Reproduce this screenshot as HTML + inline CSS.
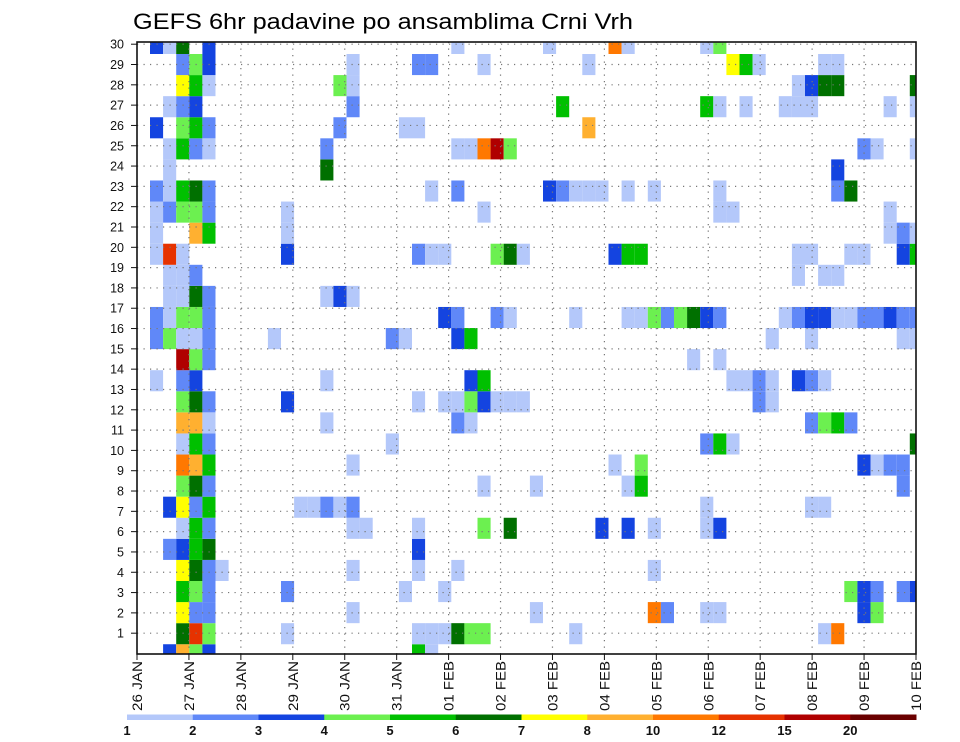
<!DOCTYPE html>
<html><head><meta charset="utf-8"><style>
html,body{margin:0;padding:0;background:#fff;}
svg{display:block;font-family:"Liberation Sans",sans-serif;}
</style></head><body>
<svg id="chart" width="960" height="742" viewBox="0 0 960 742">
<text x="133" y="29" font-size="22" textLength="500" lengthAdjust="spacingAndGlyphs">GEFS 6hr padavine po ansamblima Crni Vrh</text>
<g id="cells"></g>
<g id="grid"></g>
<g id="axes"></g>
<g id="legend"></g>
</svg>
<script>
// ---- data ----
const dayLabels = ["26 JAN","27 JAN","28 JAN","29 JAN","30 JAN","31 JAN","01 FEB","02 FEB","03 FEB","04 FEB","05 FEB","06 FEB","07 FEB","08 FEB","09 FEB","10 FEB"];
const memberTicks = [1,2,3,4,5,6,7,8,9,10,11,12,13,14,15,16,17,18,19,20,21,22,23,24,25,26,27,28,29,30];
const legendLevels = [1,2,3,4,5,6,7,8,10,12,15,20];
const legendColors = ["#b4c8fa","#6088f8","#1444e0","#6cf050","#00c000","#007000","#ffff00","#ffb030","#ff7800","#e63200","#b00000","#6a0000"];
// member index (bottom=0) -> list of [timeStep, precip mm]
const m0  = [[2,3.5],[3,9],[4,4.5],[5,3.5],[21,5.5],[22,1.5]];
const m1  = [[3,6.5],[4,13],[5,4.5],[11,1.5],[21,1.5],[22,1.5],[23,1.5],[24,6.5],[25,4.5],[26,4.5],[33,1.5],[52,1.5],[53,11]];
const m2  = [[3,7.5],[4,2.5],[5,2.5],[16,1.5],[30,1.5],[39,11],[40,2.5],[43,1.5],[44,1.5],[55,3.5],[56,4.5]];
const m3  = [[3,5.5],[4,4.5],[5,2.5],[11,2.5],[20,1.5],[23,1.5],[54,4.5],[55,3.5],[56,2.5],[58,2.5],[59,3.5]];
const m4  = [[3,7.5],[4,6.5],[5,2.5],[6,1.5],[16,1.5],[21,1.5],[24,1.5],[39,1.5]];
const m5  = [[2,2.5],[3,3.5],[4,5.5],[5,6.5],[21,3.5]];
const m6  = [[3,1.5],[4,5.5],[5,2.5],[16,1.5],[17,1.5],[21,1.5],[26,4.5],[28,6.5],[35,3.5],[37,3.5],[39,1.5],[43,1.5],[44,3.5]];
const m7  = [[2,3.5],[3,7.5],[4,2.5],[5,5.5],[12,1.5],[13,1.5],[14,2.5],[15,1.5],[16,2.5],[43,1.5],[51,1.5],[52,1.5]];
const m8  = [[3,4.5],[4,6.5],[5,2.5],[26,1.5],[30,1.5],[37,1.5],[38,5.5],[58,2.5]];
const m9  = [[3,11],[4,9],[5,5.5],[16,1.5],[36,1.5],[38,4.5],[55,3.5],[56,1.5],[57,2.5],[58,2.5]];
const m10 = [[3,1.5],[4,5.5],[5,2.5],[19,1.5],[43,2.5],[44,5.5],[45,1.5],[59,6.5]];
const m11 = [[3,9],[4,9],[5,1.5],[14,1.5],[24,2.5],[25,1.5],[51,2.5],[52,4.5],[53,5.5],[54,2.5]];
const m12 = [[3,4.5],[4,6.5],[5,2.5],[11,3.5],[21,1.5],[23,1.5],[24,1.5],[25,4.5],[26,3.5],[27,1.5],[28,1.5],[29,1.5],[47,2.5],[48,1.5]];
const m13 = [[1,1.5],[3,2.5],[4,3.5],[14,1.5],[25,3.5],[26,5.5],[45,1.5],[46,1.5],[47,2.5],[48,1.5],[50,3.5],[51,2.5],[52,1.5]];
const m14 = [[3,17],[4,4.5],[5,2.5],[42,1.5],[44,1.5]];
const m15 = [[1,2.5],[2,4.5],[3,1.5],[4,1.5],[5,2.5],[10,1.5],[19,2.5],[20,1.5],[24,3.5],[25,5.5],[48,1.5],[51,1.5],[58,1.5],[59,1.5]];
const m16 = [[1,2.5],[2,1.5],[3,4.5],[4,4.5],[5,2.5],[23,3.5],[24,2.5],[27,2.5],[28,1.5],[33,1.5],[37,1.5],[38,1.5],[39,4.5],[40,2.5],[41,4.5],[42,6.5],[43,3.5],[44,2.5],[49,1.5],[50,2.5],[51,3.5],[52,3.5],[53,1.5],[54,1.5],[55,2.5],[56,2.5],[57,3.5],[58,2.5],[59,2.5]];
const m17 = [[2,1.5],[3,1.5],[4,6.5],[5,2.5],[14,1.5],[15,3.5],[16,1.5]];
const m18 = [[2,1.5],[3,1.5],[4,2.5],[50,1.5],[52,1.5],[53,1.5]];
const m19 = [[1,1.5],[2,13],[3,1.5],[11,3.5],[21,2.5],[22,1.5],[23,1.5],[27,4.5],[28,6.5],[29,1.5],[36,3.5],[37,5.5],[38,5.5],[50,1.5],[51,1.5],[54,1.5],[55,1.5],[58,3.5],[59,5.5]];
const m20 = [[1,1.5],[4,9],[5,5.5],[11,1.5],[57,1.5],[58,2.5],[59,1.5]];
const m21 = [[1,1.5],[2,2.5],[3,4.5],[4,4.5],[5,2.5],[11,1.5],[26,1.5],[44,1.5],[45,1.5],[57,1.5]];
const m22 = [[1,2.5],[2,1.5],[3,5.5],[4,6.5],[5,2.5],[22,1.5],[24,2.5],[31,3.5],[32,2.5],[33,1.5],[34,1.5],[35,1.5],[37,1.5],[39,1.5],[44,1.5],[53,2.5],[54,6.5]];
const m23 = [[2,1.5],[14,6.5],[53,3.5]];
const m24 = [[2,1.5],[3,5.5],[4,2.5],[5,1.5],[14,2.5],[24,1.5],[25,1.5],[26,11],[27,17],[28,4.5],[55,2.5],[56,1.5],[59,1.5]];
const m25 = [[1,3.5],[3,4.5],[4,5.5],[5,2.5],[15,2.5],[20,1.5],[21,1.5],[34,9]];
const m26 = [[2,1.5],[3,2.5],[4,3.5],[16,2.5],[32,5.5],[43,5.5],[44,1.5],[46,1.5],[49,1.5],[50,1.5],[51,1.5],[57,1.5],[59,1.5]];
const m27 = [[3,7.5],[4,5.5],[5,1.5],[15,4.5],[16,1.5],[50,1.5],[51,3.5],[52,6.5],[53,6.5],[59,6.5]];
const m28 = [[3,2.5],[4,4.5],[5,3.5],[16,1.5],[21,2.5],[22,2.5],[26,1.5],[34,1.5],[45,7.5],[46,5.5],[47,1.5],[52,1.5],[53,1.5]];
const m29 = [[1,3.5],[2,1.5],[3,6.5],[5,3.5],[24,1.5],[31,1.5],[36,11],[37,1.5],[43,1.5],[44,4.5]];
const members = [m0,m1,m2,m3,m4,m5,m6,m7,m8,m9,m10,m11,m12,m13,m14,m15,m16,m17,m18,m19,m20,m21,m22,m23,m24,m25,m26,m27,m28,m29];

// ---- layout / scales ----
const NS = "http://www.w3.org/2000/svg";
const PL = 137, PR = 916, PT = 42, PB = 654;
const dayX = d => PL + d * (PR - PL) / 15;
const tickY = r => 653.5 - 20.31 * r;
const colLeft = j => 150 + 13.1 * (j - 1);
const COLW = 13.1;
const rowTop = m => 54 + 21.08 * (28 - m);
const ROWH = 21.08;
function colorFor(v){
  let idx = -1;
  for (let i = 0; i < legendLevels.length; i++) if (v >= legendLevels[i]) idx = i;
  return idx < 0 ? null : legendColors[idx];
}
function mk(tag, attrs, parent){
  const el = document.createElementNS(NS, tag);
  for (const k in attrs) el.setAttribute(k, attrs[k]);
  parent.appendChild(el);
  return el;
}
const gCells = document.getElementById('cells');
members.forEach((list, m) => {
  list.forEach(([j, v]) => {
    const c = colorFor(v);
    if (!c) return;
    let x0 = Math.max(PL, colLeft(j)), x1 = Math.min(PR, colLeft(j) + COLW);
    let y0 = Math.max(PT, rowTop(m)), y1 = Math.min(PB, rowTop(m) + ROWH);
    if (x1 <= x0 || y1 <= y0) return;
    const r = mk('rect', {x:x0, y:y0, width:x1-x0, height:y1-y0, fill:c}, gCells);
    
    
  });
});

// grid
const gGrid = document.getElementById('grid');
memberTicks.forEach(r => {
  const y = tickY(r);
  const l = mk('line', {x1:PL, x2:PR, y1:y, y2:y, stroke:'#777', 'stroke-width':1.2, 'stroke-dasharray':'1.2,5.3'}, gGrid);
  
  
});
for (let d = 1; d < 15; d++) {
  const x = dayX(d);
  const l = mk('line', {x1:x, x2:x, y1:PT, y2:PB, stroke:'#777', 'stroke-width':1.2, 'stroke-dasharray':'1.2,5.3'}, gGrid);
  
  
}

// axes
const gAx = document.getElementById('axes');
const frame = mk('rect', {x:PL, y:PT, width:PR-PL, height:PB-PT, fill:'none', stroke:'#111', 'stroke-width':1.6}, gAx);


memberTicks.forEach(r => {
  const y = tickY(r);
  const t = mk('line', {x1:PL-6, x2:PL, y1:y, y2:y, stroke:'#111', 'stroke-width':1}, gAx);
  
  
  const lb = mk('text', {x:PL-13, y:y+4.5, 'font-size':12.5, 'text-anchor':'end', fill:'#111'}, gAx);
  lb.textContent = r;
  
  
});
dayLabels.forEach((s, d) => {
  const x = dayX(d);
  const t = mk('line', {x1:x, x2:x, y1:PB, y2:PB+6, stroke:'#111', 'stroke-width':1}, gAx);
  
  
  const lb = mk('text', {x:0, y:0, 'font-size':14, 'text-anchor':'end', fill:'#111', transform:'translate(' + (x+5) + ',661) rotate(-90)', textLength:50, lengthAdjust:'spacingAndGlyphs'}, gAx);
  lb.textContent = s;
  
  
});

// legend
const gLeg = document.getElementById('legend');
const LX0 = 127, LX1 = 916, segW = (LX1 - LX0) / legendColors.length;
legendColors.forEach((c, i) => {
  const r = mk('rect', {x:LX0 + i*segW, y:714.5, width:segW+0.5, height:5.5, fill:c}, gLeg);
  
  
});
legendLevels.forEach((v, i) => {
  const lb = mk('text', {x:LX0 + i*segW, y:735, 'font-size':13, 'font-weight':'bold', 'text-anchor':'middle', fill:'#111'}, gLeg);
  lb.textContent = v;
  
  
});
</script>
</body></html>
